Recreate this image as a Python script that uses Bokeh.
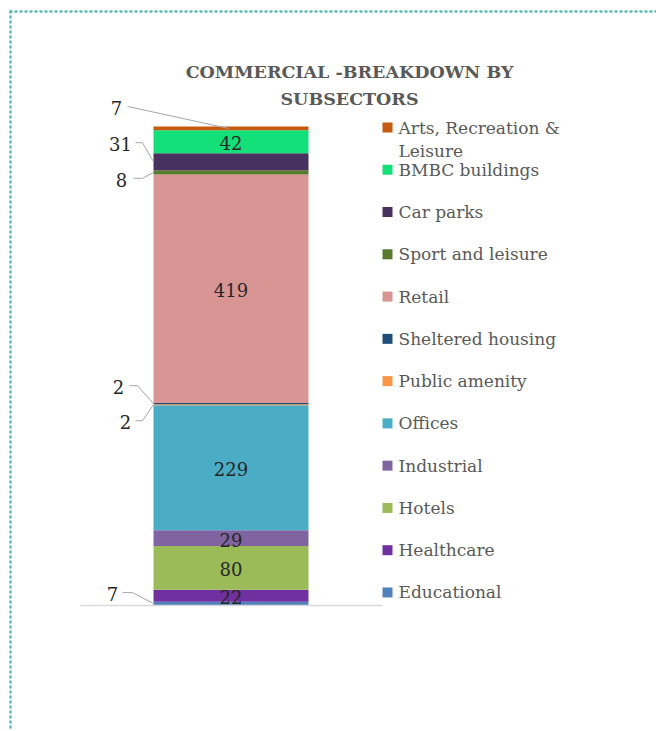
from bokeh.plotting import figure
from bokeh.models import Range1d, ColumnDataSource
from bokeh.core.properties import value
from bokeh.embed import file_html
from bokeh.resources import INLINE

# ---- data (bottom of stack first) ----
categories = ["Educational", "Healthcare", "Hotels", "Industrial", "Offices",
              "Public amenity", "Sheltered housing", "Retail", "Sport and leisure",
              "Car parks", "BMBC buildings", "Arts, Recreation & Leisure"]
values = [7, 22, 80, 29, 229, 2, 2, 419, 8, 31, 42, 7]
colors = ["#4f81bd", "#7030a0", "#9bbb59", "#8064a2", "#4bacc6",
          "#f79646", "#1f4e79", "#d99594", "#5a7a30",
          "#47325f", "#14e07a", "#c55a11"]
label_inside = [False, True, True, True, True, False, False, True, False,
                False, True, False]
title_lines = ["COMMERCIAL -BREAKDOWN BY", "SUBSECTORS"]
legend_lines = {"Arts, Recreation & Leisure": ["Arts, Recreation &", "Leisure"]}

# ---- layout (pixel positions) ----
W, H = 656, 731
bar_bottom_px, bar_top_px = 605, 126
bar_x, bar_w = 230.5, 155
total = sum(values)
s = (bar_bottom_px - bar_top_px) / total  # px per unit

p = figure(width=W, height=H, x_range=Range1d(0, W), y_range=Range1d(H, 0),
           min_border=0, toolbar_location=None, output_backend="svg",
           x_axis_type=None, y_axis_type=None)
p.grid.visible = False
p.outline_line_color = None
p.background_fill_color = "white"
p.border_fill_color = "white"
p.extra_y_ranges = {"val": Range1d(start=-(H - bar_bottom_px) / s,
                                   end=bar_bottom_px / s)}

# dotted border
p.line([10, W], [11, 11], line_color="#56b8b8", line_width=2.4,
       line_dash="1 4", line_cap="round")
p.line([10, 10], [11, H], line_color="#56b8b8", line_width=2.4,
       line_dash="1 4", line_cap="round")

# stacked bar
bottoms, tops = [], []
acc = 0
for v in values:
    bottoms.append(acc)
    acc += v
    tops.append(acc)
centers = [(b + t) / 2 for b, t in zip(bottoms, tops)]
src = ColumnDataSource(dict(cat=categories, bottom=bottoms, top=tops, color=colors))
p.vbar(x=bar_x, width=bar_w, bottom="bottom", top="top", fill_color="color",
       line_color=None, source=src, y_range_name="val")

# baseline
p.segment(x0=[80], y0=[0], x1=[382], y1=[0], line_color="#d9d9d9",
          line_width=1.5, y_range_name="val")

# inside labels
in_x, in_y, in_t = [], [], []
for c, v, inside in zip(centers, values, label_inside):
    if inside:
        in_x.append(bar_x)
        in_y.append(c - 1.5 / s)
        in_t.append(str(v))
p.text(x=in_x, y=in_y, text=in_t, text_align="center", text_baseline="middle",
       text_font=value("DejaVu Serif"), text_font_size="18px",
       text_color="#262626", y_range_name="val")

# outside labels: (label x, dy px from segment center, line start x, elbow x, end x)
outside_style = {
    "Arts, Recreation & Leisure": (116, -22, 127, 127, 228),
    "Car parks": (120, -19, 135, 142, 153),
    "Sport and leisure": (121, 6, 133, 142, 153),
    "Sheltered housing": (118, -18, 129, 137, 153),
    "Public amenity": (125, 16, 135, 142, 153),
    "Educational": (112, -11, 122, 132, 153),
}
for cat, c, v in zip(categories, centers, values):
    if cat in outside_style:
        lx, dy, x0, xe, x1 = outside_style[cat]
        ly = c - dy / s
        p.line([x0, xe, x1], [ly, ly, c], line_color="#a6a6a6", line_width=1,
               y_range_name="val")
        p.text(x=[lx], y=[ly - 1.5 / s], text=[str(v)], text_align="center",
               text_baseline="middle", text_font=value("DejaVu Serif"),
               text_font_size="18px", text_color="#262626", y_range_name="val")

# title
p.text(x=[349, 349], y=[71, 98], text=title_lines, text_align="center",
       text_baseline="middle", text_font=value("DejaVu Serif"),
       text_font_size="17.5px", text_font_style="bold", text_color="#595959")

# legend (top to bottom = reverse stack order)
leg_top, leg_step = 127, 42.27
leg_cats = categories[::-1]
leg_cols = colors[::-1]
sq_y, tx, ty, tt = [], [], [], []
for i, cat in enumerate(leg_cats):
    y = leg_top + i * leg_step
    sq_y.append(y)
    lines = legend_lines.get(cat, [cat])
    for j, ln in enumerate(lines):
        tx.append(398)
        ty.append(y + j * 23)
        tt.append(ln)
p.rect(x=[387] * len(sq_y), y=sq_y, width=10, height=10, fill_color=leg_cols,
       line_color=None)
p.text(x=tx, y=ty, text=tt, text_align="left", text_baseline="middle",
       text_font=value("DejaVu Serif"), text_font_size="17px",
       text_color="#595959")

open("out.html", "w").write(file_html(p, INLINE))
